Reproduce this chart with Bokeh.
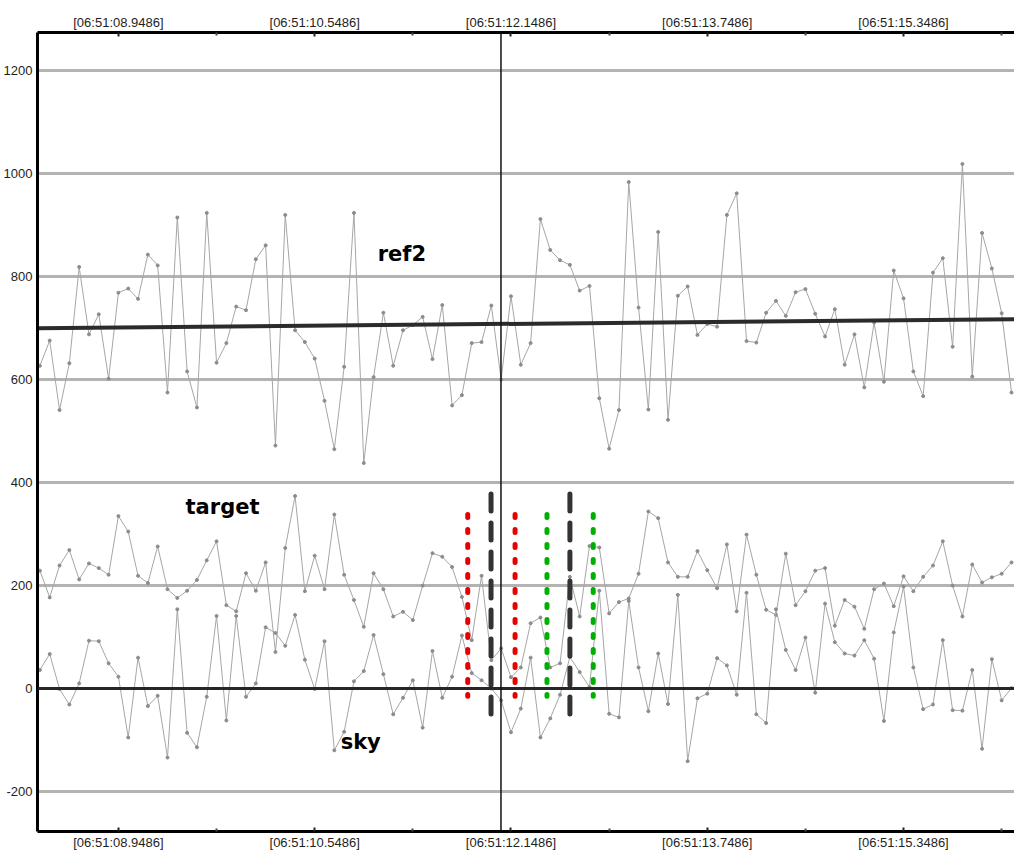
import numpy as np
from bokeh.plotting import figure
from bokeh.models import FixedTicker, Span, Range1d, LinearAxis
from bokeh.core.properties import value
from bokeh.embed import file_html
from bokeh.resources import INLINE

# ---------------- data ----------------
sample_start = 8.3086      # seconds after 06:51:00
sample_step = 0.08         # sampling interval (s)

ref2 = [627, 676, 541, 632, 819, 688, 727, 602, 769, 777,
        757, 843, 822, 575, 915, 616, 546, 924, 633, 671,
        742, 735, 834, 861, 472, 920, 696, 673, 641, 559,
        465, 625, 924, 438, 605, 730, 627, 696, 706, 722,
        640, 745, 550, 570, 671, 673, 744, 600, 762, 629,
        671, 912, 852, 832, 823, 773, 782, 564, 466, 541,
        984, 740, 542, 887, 522, 763, 781, 687, 708, 703,
        920, 962, 675, 672, 730, 753, 724, 770, 776, 728,
        684, 737, 629, 688, 585, 711, 596, 812, 758, 616,
        568, 808, 836, 664, 1019, 606, 885, 816, 729, 575]

target = [229, 177, 239, 269, 212, 243, 234, 221, 335, 305,
          219, 205, 276, 193, 176, 190, 211, 249, 286, 162,
          150, 224, 190, 245, 71, 273, 374, 189, 258, 193,
          338, 221, 172, 120, 224, 193, 140, 149, 133, 200,
          263, 256, 236, 178, 94, 219, 55, 78, 22, 41,
          127, 138, 41, 49, 217, 140, 277, 274, 146, 168,
          175, 223, 344, 331, 245, 217, 217, 267, 230, 195,
          280, 150, 299, 221, 153, 143, 262, 162, 189, 229,
          234, 122, 172, 159, 116, 193, 204, 160, 218, 189,
          217, 239, 286, 200, 140, 241, 206, 216, 223, 245]

sky = [36, 67, -1, -31, 10, 93, 92, 49, 23, -95,
       60, -34, -14, -134, 154, -86, -114, -16, 141, -62,
       141, -16, 10, 119, 108, 83, 143, 56, -1, 92,
       -120, -84, 14, 34, 104, 28, -50, -18, 16, -76,
       73, -18, 23, 103, 30, 16, 0, -23, -85, -39,
       60, -95, -58, -12, 61, 32, 3, 190, -49, -56,
       170, 41, -44, 68, -30, 182, -141, -19, -10, 59,
       45, -12, 186, -50, -67, 154, 75, 36, 99, -8,
       165, 90, 68, 64, 94, 58, -63, 109, 198, 41,
       -40, -31, 94, -42, -43, 36, -117, 57, -23, 1]

ref2_trend_t = [8.2486, 16.3486]
ref2_trend_v = [700, 717.5]

tick_times = [8.9486, 10.5486, 12.1486, 13.7486, 15.3486]
tick_labels = ["[06:51:08.9486]", "[06:51:10.5486]", "[06:51:12.1486]",
               "[06:51:13.7486]", "[06:51:15.3486]"]
minor_times = [9.7486, 11.3486, 12.9486, 14.5486, 16.1486]
y_ticks = [-200, 0, 200, 400, 600, 800, 1000, 1200]
y_tick_labels = ["-200", "0", "200", "400", "600", "800", "1000", "1200"]

cursor_time = 12.067

mark_times = [11.796, 11.986, 12.182, 12.442, 12.629, 12.819]
mark_kind = ["red", "black", "red", "green", "black", "green"]
mark_top = [338, 378, 338, 338, 378, 338]
mark_bottom = [-15, -53, -15, -15, -53, -15]

label_names = ["ref2", "target", "sky"]
label_t = [11.062, 9.496, 10.760]
label_v = [845, 353, -103]

# ---------------- figure ----------------
t = sample_start + sample_step * np.arange(len(ref2))

p = figure(width=1014, height=860,
           x_range=Range1d(8.289, 16.253), y_range=Range1d(-277.7, 1274.4),
           output_backend="svg", toolbar_location=None,
           min_border_left=36, min_border_right=0,
           min_border_top=32, min_border_bottom=29,
           background_fill_color="white", border_fill_color="white")
p.outline_line_color = None

bottom_axis = p.below[0]
top_axis = LinearAxis()
p.add_layout(top_axis, "above")

label_font = "Liberation Sans"
overrides = {tt: lab for tt, lab in zip(tick_times, tick_labels)}

for ax in [bottom_axis, top_axis]:
    ax.ticker = FixedTicker(ticks=tick_times, minor_ticks=minor_times)
    ax.major_label_overrides = overrides
    ax.axis_line_width = 3
    ax.axis_line_color = "black"
    ax.major_tick_in = 4
    ax.major_tick_out = 0
    ax.minor_tick_in = 3
    ax.minor_tick_out = 0
    ax.major_tick_line_width = 2
    ax.minor_tick_line_width = 2
    ax.major_tick_line_color = "#222222"
    ax.minor_tick_line_color = "#444444"
    ax.major_label_standoff = 3
    ax.major_label_text_font = label_font
    ax.major_label_text_font_size = "13px"
    ax.major_label_text_color = "#1e1e1e"

ya = p.left[0]
ya.ticker = FixedTicker(ticks=y_ticks)
ya.major_label_overrides = {v: s for v, s in zip(y_ticks, y_tick_labels)}
ya.axis_line_width = 3
ya.axis_line_color = "black"
ya.major_tick_line_color = None
ya.minor_tick_line_color = None
ya.major_tick_out = 0
ya.major_tick_in = 0
ya.major_label_standoff = 5
ya.major_label_text_font = label_font
ya.major_label_text_font_size = "13px"
ya.major_label_text_color = "#1e1e1e"

p.xgrid.grid_line_color = None
p.ygrid.ticker = FixedTicker(ticks=y_ticks)
p.ygrid.grid_line_color = "#b3b3b3"
p.ygrid.grid_line_width = 3

# zero line
p.add_layout(Span(location=0, dimension="width", line_color="#262626", line_width=3))

# series
for series in (ref2, target, sky):
    p.line(t, series, line_color="#a6a6a6", line_width=1)
    p.scatter(t, series, size=3, color="#8c8c8c", marker="circle")

# ref2 trend
p.line(ref2_trend_t, ref2_trend_v, line_color="#2b2b2b", line_width=4)

# cursor line
p.add_layout(Span(location=cursor_time, dimension="height", line_color="#111111", line_width=1.5))

# marker segments
styles = {
    "red": dict(line_color="#e60000", line_width=5, line_dash="3 12"),
    "green": dict(line_color="#00b000", line_width=5, line_dash="3 12"),
    "black": dict(line_color="#333333", line_width=5, line_dash="17 12"),
}
for kind, st in styles.items():
    idx = [i for i, k in enumerate(mark_kind) if k == kind]
    p.segment(x0=[mark_times[i] for i in idx], y0=[mark_top[i] for i in idx],
              x1=[mark_times[i] for i in idx], y1=[mark_bottom[i] for i in idx],
              line_cap="round", **st)

# labels
p.text(x=label_t, y=label_v, text=label_names,
       text_font=value("DejaVu Sans"), text_font_style="bold",
       text_font_size="21px", text_color="black",
       text_baseline="alphabetic", text_align="left")

open("out.html", "w").write(file_html(p, INLINE))
